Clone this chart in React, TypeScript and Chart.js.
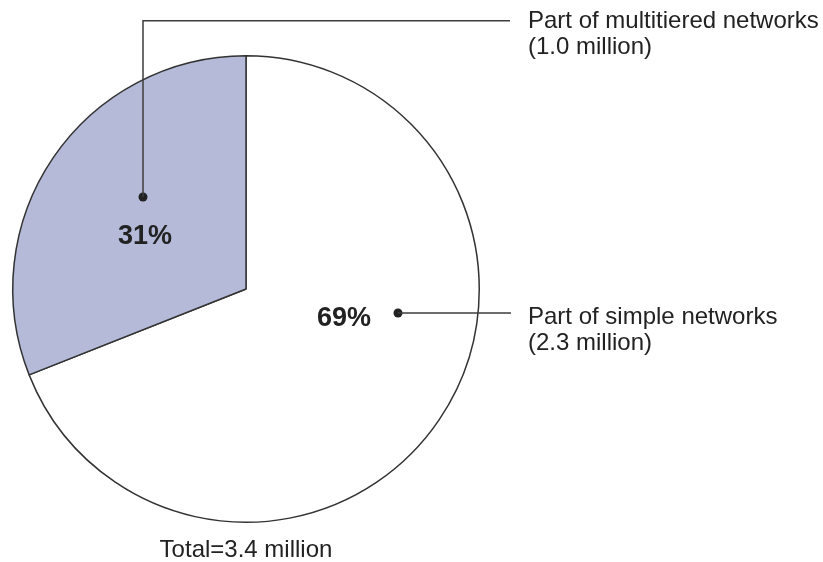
import React, { useEffect, useRef } from "react";
import { Chart, registerables } from "chart.js";

Chart.register(...registerables);

// Share of the total held in each network type
const categories = ["Part of simple networks", "Part of multitiered networks"];
const shares = [69, 31];
const amounts = ["(2.3 million)", "(1.0 million)"];
const totalLabel = "Total=3.4 million";
const sliceColors = ["#ffffff", "#b4bad8"];

const FONT = "'Liberation Sans', Arial, sans-serif";
const INK = "#222222";
const LINE = "#3c3c3c";

// Draws the percentage labels, leader lines and the total caption
const calloutPlugin = {
  id: "callouts",
  afterDraw(chart: any) {
    const ctx = chart.ctx as CanvasRenderingContext2D;
    const meta = chart.getDatasetMeta(0);
    const arc0 = meta.data[0] as any;
    const cx = arc0.x;
    const cy = arc0.y;
    const r = arc0.outerRadius;

    ctx.save();
    ctx.strokeStyle = LINE;
    ctx.fillStyle = INK;
    ctx.lineWidth = 1.5;

    const dot = (x: number, y: number) => {
      ctx.beginPath();
      ctx.arc(x, y, 4.5, 0, Math.PI * 2);
      ctx.fill();
    };

    // simple networks: percentage, dot and horizontal leader
    const sDotX = cx + 152;
    const sDotY = cy + 24;
    ctx.font = `bold 27px ${FONT}`;
    ctx.textAlign = "center";
    ctx.textBaseline = "middle";
    ctx.fillText(`${shares[0]}%`, cx + 98, cy + 30);
    dot(sDotX, sDotY);
    ctx.beginPath();
    ctx.moveTo(sDotX, sDotY);
    ctx.lineTo(cx + 265, sDotY);
    ctx.stroke();

    // multitiered networks: percentage, dot and elbow leader
    const mDotX = cx - 103;
    const mDotY = cy - 92;
    const elbowY = cy - r - 35;
    ctx.fillText(`${shares[1]}%`, cx - 101, cy - 52);
    dot(mDotX, mDotY);
    ctx.beginPath();
    ctx.moveTo(mDotX, mDotY);
    ctx.lineTo(mDotX, elbowY);
    ctx.lineTo(cx + 264, elbowY);
    ctx.stroke();

    // category texts
    ctx.font = `24px ${FONT}`;
    ctx.textAlign = "left";
    ctx.textBaseline = "alphabetic";
    const tx = cx + 282;
    ctx.fillText(categories[1], tx, elbowY + 7);
    ctx.fillText(amounts[1], tx, elbowY + 33);
    ctx.fillText(categories[0], tx, sDotY + 11);
    ctx.fillText(amounts[0], tx, sDotY + 37);

    // total caption below the pie
    ctx.textAlign = "center";
    ctx.fillText(totalLabel, cx, cy + r + 35);
    ctx.restore();
  },
};

export default function App() {
  const canvasRef = useRef<HTMLCanvasElement | null>(null);

  useEffect(() => {
    if (!canvasRef.current) return;
    const chart = new Chart(canvasRef.current, {
      type: "pie",
      data: {
        labels: categories,
        datasets: [
          {
            data: shares,
            backgroundColor: sliceColors,
            borderColor: "#333333",
            borderWidth: 1.5,
          },
        ],
      },
      options: {
        animation: false,
        responsive: false,
        layout: { padding: { left: 12, top: 55, right: 343, bottom: 39 } },
        plugins: {
          legend: { display: false },
          tooltip: { enabled: false },
        },
      },
      plugins: [calloutPlugin],
    });
    return () => chart.destroy();
  }, []);

  return (
    <div style={{ position: "absolute", left: 0, top: 0, width: 823, height: 562, background: "#fff" }}>
      <canvas ref={canvasRef} width={823} height={562} />
    </div>
  );
}
